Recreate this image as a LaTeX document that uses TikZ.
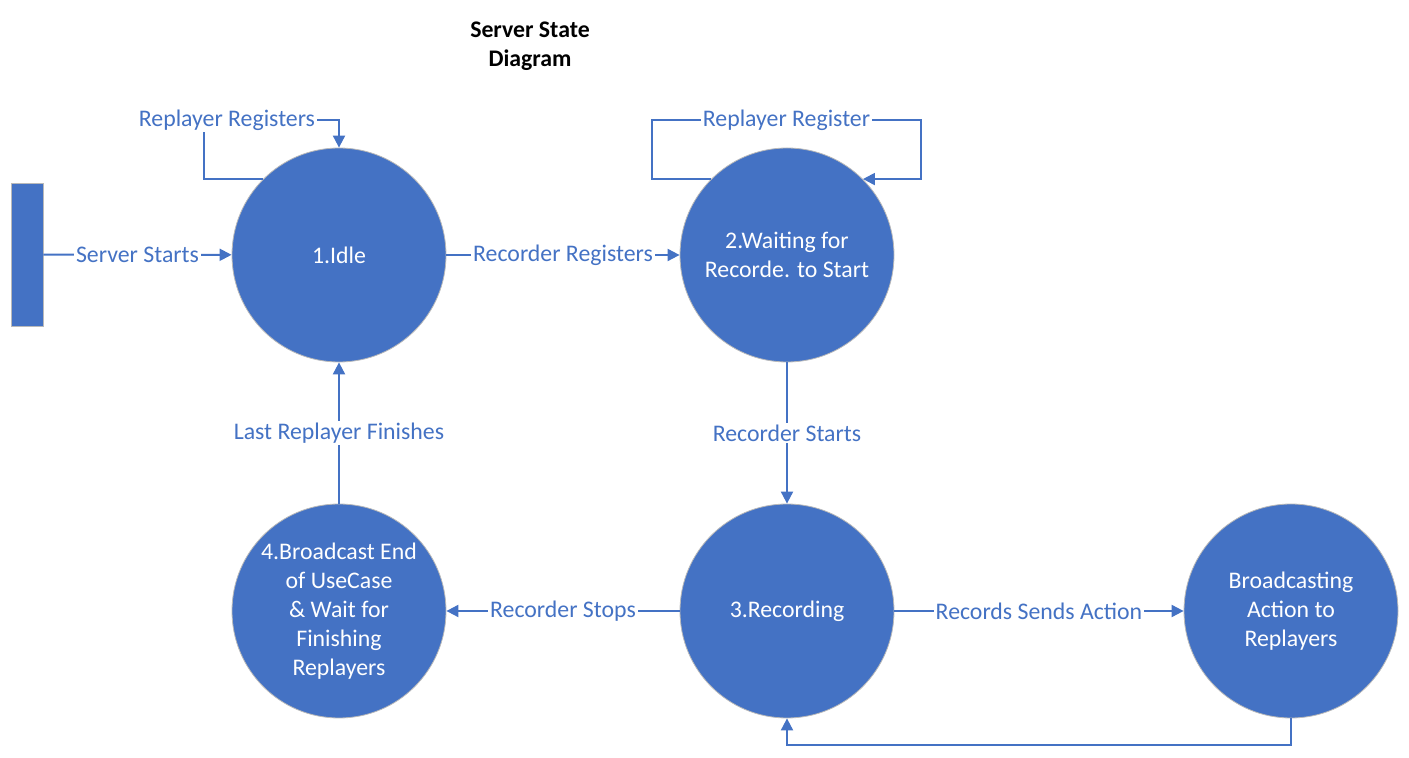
\documentclass[tikz,border=0pt]{standalone}
\usepackage{fontspec}
\setmainfont{Carlito}
\usetikzlibrary{arrows.meta}
\definecolor{stblue}{HTML}{4472C4}
\begin{document}
\begin{tikzpicture}[x=0.5pt,y=-0.5pt,
   font=\fontsize{11.9}{14.5}\selectfont,
   state/.style={circle,fill=stblue,draw=gray!55,line width=0.4pt,minimum size=107pt,
     inner sep=0pt,text=white,align=center},
   flow/.style={draw=stblue,line width=1pt,-{Triangle[length=6pt,width=6pt]}},
   lbl/.style={fill=white,text=stblue,inner sep=1pt}]
\useasboundingbox (0,0) rectangle (1409,758);
\node[font=\fontsize{11.9}{14.5}\selectfont\bfseries,align=center] (title) at (530,46) {Server State\\Diagram};
\node[fill=stblue,draw=gray!55,line width=0.4pt,minimum width=16pt,minimum height=71.5pt,inner sep=0pt] (start) at (27,254.5) {};
\node[state] (idle) at (339,255) {1.Idle};
\node[state] (wait) at (787,255) {2.Waiting for\\Recorde. to Start};
\node[state] (rec) at (787,611) {3.Recording};
\node[state] (bend) at (339,611) {4.Broadcast End\\of UseCase\\\& Wait for\\Finishing\\Replayers};
\node[state] (bcast) at (1291,611) {Broadcasting\\Action to\\Replayers};
\draw[flow] (start) -- node[lbl] {Server Starts} (idle);
\draw[flow] (idle) -- node[lbl] {Recorder Registers} (wait);
\draw[flow] (wait) -- node[lbl] {Recorder Starts} (rec);
\draw[flow] (rec) -- node[lbl] {Recorder Stops} (bend);
\draw[flow] (bend) -- node[lbl] {Last Replayer Finishes} (idle);
\draw[flow] (rec) -- node[lbl] {Records Sends Action} (bcast);
\draw[flow] (bcast.south) -- ++(0,27) -| (rec.south);
\draw[flow] (idle.135) -| (204,120) -- node[lbl,pos=0.17] {Replayer Registers} (339,120) -- (idle.north);
\draw[flow] (wait.135) -| (652,120) -- node[lbl] {Replayer Register} (921,120) |- (wait.45);
\end{tikzpicture}
\end{document}
